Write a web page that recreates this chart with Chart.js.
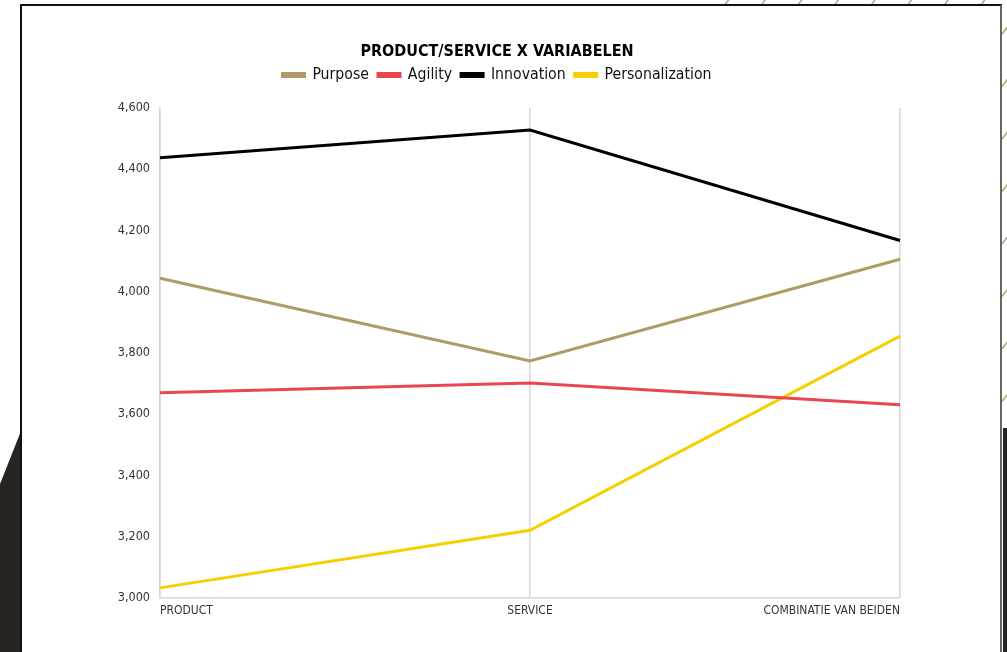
<!DOCTYPE html>
<html>
<head>
<meta charset="utf-8">
<script src="https://cdn.jsdelivr.net/npm/chart.js@4.4.1/dist/chart.umd.min.js"></script>
<style>
  html,body{margin:0;padding:0;background:#fff;overflow:hidden}
  #wrap{position:relative;width:1007px;height:652px}
  #deco{position:absolute;left:0;top:0}
  #card{position:absolute;left:20px;top:4px;width:982px;height:660px;background:#fff;
        border-top:2px solid #111;border-left:2px solid #111;border-right:2px solid #666;box-sizing:border-box}
  #box{position:absolute;left:0;top:0;width:994px;height:652px}
</style>
</head>
<body>
<div id="wrap">
  <svg id="deco" width="1007" height="652"></svg>
  <div id="card"></div>
  <div id="box"><canvas id="c"></canvas></div>
</div>
<script>
// ── data ──
const categories = ['PRODUCT', 'SERVICE', 'COMBINATIE VAN BEIDEN'];
const purpose         = [4044, 3774, 4106];
const agility         = [3670, 3702, 3631];
const innovation      = [4437, 4528, 4167];
const personalization = [3033, 3221, 3855];
const yMin = 3000, yMax = 4600, yStep = 200;

const FONT = "'Liberation Sans Narrow','DejaVu Sans Condensed','Roboto Condensed',Roboto,sans-serif";

// background decorations (dark wedges + tan hatching)
(function(){
  const svg = document.getElementById('deco');
  let s = '<polygon points="0,484 21,431 21,652 0,652" fill="#272421"/>';
  s += '<rect x="1003" y="428" width="4" height="224" fill="#272421"/>';
  for (let x = 727; x < 1000; x += 36.6) s += `<line x1="${x-3}" y1="6" x2="${x+3}" y2="-2" stroke="#b09a65" stroke-width="1.3"/>`;
  for (let y = 30; y < 420; y += 52.5) s += `<line x1="1002" y1="${y+4}" x2="1008" y2="${y-4}" stroke="#b09a65" stroke-width="1.3"/>`;
  svg.innerHTML = s;
})();

const mk = (label, data, color) => ({
  label, data, borderColor: color, backgroundColor: color,
  borderWidth: 3, pointRadius: 0, pointHoverRadius: 0, tension: 0, fill: false
});

new Chart(document.getElementById('c'), {
  type: 'line',
  data: {
    labels: categories,
    datasets: [
      mk('Purpose', purpose, '#b09a65'),
      mk('Agility', agility, '#e8474f'),
      mk('Innovation', innovation, '#000000'),
      mk('Personalization', personalization, '#f5d000'),
    ]
  },
  options: {
    responsive: true, maintainAspectRatio: false, animation: false,
    layout: { padding: 0 },
    plugins: {
      title: { display: true, text: 'PRODUCT/SERVICE X VARIABELEN', color: '#000',
        font: { family: FONT, size: 16, weight: 'bold' }, padding: { top: 42, bottom: -3 } },
      // empty subtitle used only as a spacer between legend and plot
      subtitle: { display: true, text: ' ', weight: 500, font: { size: 10 }, padding: { top: 0, bottom: 3 } },
      legend: { labels: { color: '#111', boxWidth: 22, boxHeight: 3, padding: 9,
        font: { family: FONT, size: 15.7 } } },
      tooltip: { enabled: false }
    },
    scales: {
      x: {
        offset: false,
        grid: { display: true, color: '#d6d6d6', lineWidth: 1.5, drawTicks: false },
        border: { display: true, color: '#d6d6d6', width: 1.5 },
        ticks: { align: 'inner', color: '#333', padding: 6, maxRotation: 0,
          font: { family: FONT, size: 12 } },
        afterFit: s => { s.height = 54; }
      },
      y: {
        min: yMin, max: yMax,
        grid: { display: false, drawTicks: false },
        border: { display: true, color: '#d6d6d6', width: 1.5 },
        ticks: { stepSize: yStep, color: '#333', padding: 10,
          font: { family: FONT, size: 12.5 } },
        afterFit: s => { s.width = 160; }
      },
      // blank right-hand axis: only reserves the empty margin right of the plot
      yr: {
        position: 'right', min: yMin, max: yMax,
        grid: { display: false, drawTicks: false },
        border: { display: false },
        ticks: { display: false },
        afterFit: s => { s.width = 94; }
      }
    }
  }
});
</script>
</body>
</html>
